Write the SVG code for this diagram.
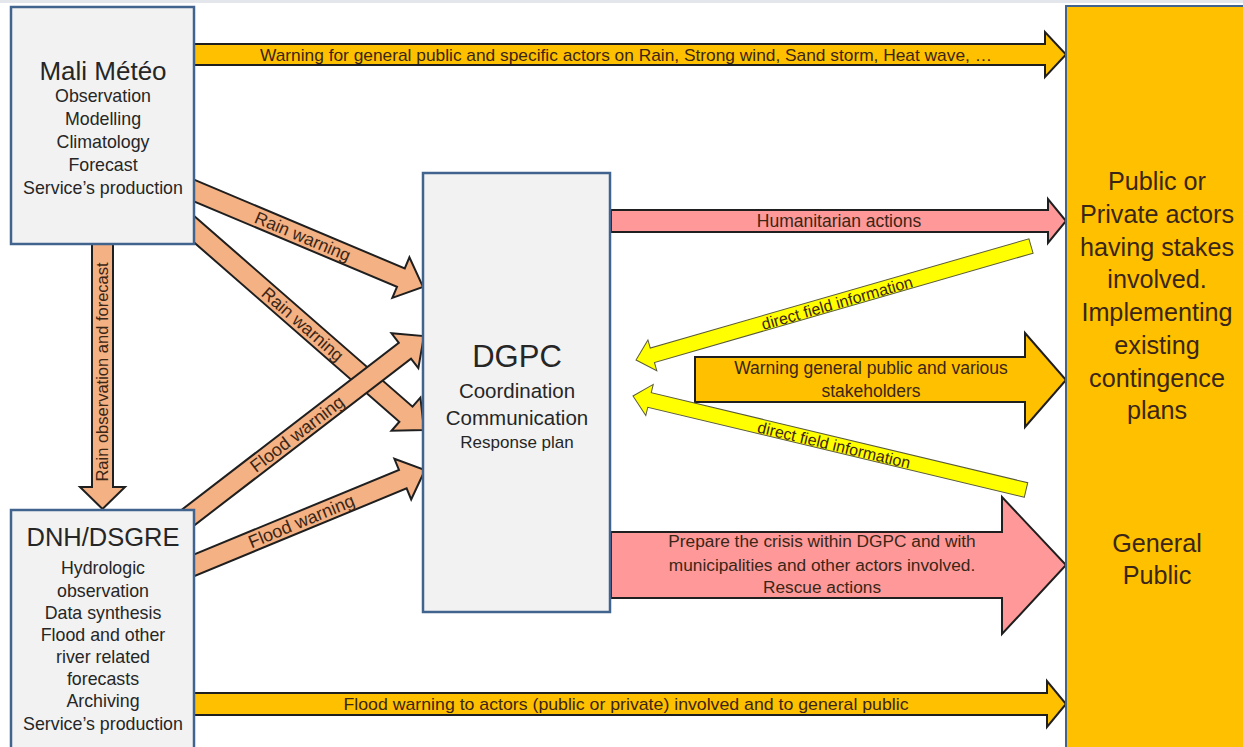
<svg xmlns="http://www.w3.org/2000/svg" width="1243" height="747" viewBox="0 0 1243 747">
<style>
.box{fill:#f2f2f2;stroke:#41648f;stroke-width:2.5}
.gold{fill:#ffc000;stroke:#1f1f1f;stroke-width:2}
.org{fill:#f4b183;stroke:#1f1f1f;stroke-width:2}
.pink{fill:#ff9999;stroke:#1f1f1f;stroke-width:2}
.yel{fill:#ffff00;stroke:#5a5a3a;stroke-width:1}
text{font-family:"Liberation Sans",Arial,sans-serif;text-anchor:middle}
.bt{fill:#262626}
.at{fill:#3a2616}
</style>
<rect x="0" y="0" width="1243" height="747" fill="#ffffff"/>
<rect x="0" y="0" width="1243" height="3" fill="#e3e6ea"/>

<g id="connectors">
  <g id="a-top">
    <path class="gold" d="M194,44 H1045 V32 L1066,54.5 L1045,77 V65 H194 Z"/>
    <text class="at" x="626" y="60.5" font-size="17" textLength="732" lengthAdjust="spacingAndGlyphs">Warning for general public and specific actors on Rain, Strong wind, Sand storm, Heat wave, …</text>
  </g>
  <g id="a-rainobs">
    <path class="org" d="M92,244 H113 V487 H125 L102.5,509 L80,487 H92 Z"/>
    <text class="at" transform="translate(102.5,372) rotate(-90)" dy=".35em" font-size="16.5">Rain observation and forecast</text>
  </g>
  <g id="a-rain1" transform="translate(183,185.9) rotate(22.83)">
    <path class="org" d="M0,-10 H236.4 V-22 L260.4,0 L236.4,22 V10 H0 Z"/>
    <text class="at" x="130" y="0" dy=".35em" font-size="17.5">Rain warning</text>
  </g>
  <g id="a-rain2" transform="translate(183,219.5) rotate(41.13)">
    <path class="org" d="M0,-10 H296 V-22 L320,0 L296,22 V10 H0 Z"/>
    <text class="at" x="159" y="0" dy=".35em" font-size="17.5">Rain warning</text>
  </g>
  <g id="a-flood1" transform="translate(186,519.1) rotate(-37.57)">
    <path class="org" d="M0,-10 H276.2 V-22 L300.2,0 L276.2,22 V10 H0 Z"/>
    <text class="at" x="140" y="0" dy=".35em" font-size="18">Flood warning</text>
  </g>
  <g id="a-flood2" transform="translate(183,569.9) rotate(-22.44)">
    <path class="org" d="M0,-10 H237.8 V-22 L261.8,0 L237.8,22 V10 H0 Z"/>
    <text class="at" x="128" y="0" dy=".35em" font-size="18">Flood warning</text>
  </g>
  <g id="a-human">
    <path class="pink" d="M611,210 H1048 V199 L1066,221 L1048,243 V232 H611 Z"/>
    <text class="at" x="839" y="227" font-size="17.5">Humanitarian actions</text>
  </g>
  <g id="a-field1">
    <path class="yel" transform="translate(1031,246) rotate(163.9)" d="M0,-7.5 H394.1 V-16 L411.1,0 L394.1,16 V7.5 H0 Z"/>
    <text class="at" transform="translate(837,303) rotate(-16.1)" dy=".35em" font-size="16">direct field information</text>
  </g>
  <g id="a-warnpub">
    <path class="gold" d="M695,357 H1025 V333 L1066,380 L1025,427 V402 H695 Z"/>
    <text class="at" x="871" y="374" font-size="17.5">Warning general public and various</text>
    <text class="at" x="871" y="397" font-size="17.5">stakeholders</text>
  </g>
  <g id="a-field2">
    <path class="yel" transform="translate(1026,490) rotate(-166.55)" d="M0,-7.5 H387.1 V-16 L404.1,0 L387.1,16 V7.5 H0 Z"/>
    <text class="at" transform="translate(834,445) rotate(13.45)" dy=".35em" font-size="16">direct field information</text>
  </g>
  <g id="a-prepare">
    <path class="pink" d="M611,532 H1002 V497 L1066,565 L1002,634 V598 H611 Z"/>
    <text class="at" x="822" y="547" font-size="17.3">Prepare the crisis within DGPC and with</text>
    <text class="at" x="822" y="571" font-size="17.3">municipalities and other actors involved.</text>
    <text class="at" x="822" y="593" font-size="17.3">Rescue actions</text>
  </g>
  <g id="a-bottom">
    <path class="gold" d="M194,693 H1047 V681 L1066,704 L1047,727 V715 H194 Z"/>
    <text class="at" x="626" y="709.5" font-size="17" textLength="565" lengthAdjust="spacingAndGlyphs">Flood warning to actors (public or private) involved and to general public</text>
  </g>
</g>

<g id="node-mali">
  <rect class="box" x="11" y="7" width="183" height="237"/>
  <text class="bt" x="103" y="80" font-size="26">Mali Météo</text>
  <text class="bt" x="103" y="102" font-size="17.8">Observation</text>
  <text class="bt" x="103" y="125" font-size="17.8">Modelling</text>
  <text class="bt" x="103" y="148" font-size="17.8">Climatology</text>
  <text class="bt" x="103" y="171" font-size="17.8">Forecast</text>
  <text class="bt" x="103" y="194" font-size="17.8">Service’s production</text>
</g>

<g id="node-dnh">
  <rect class="box" x="11" y="510" width="183" height="245"/>
  <text class="bt" x="103" y="546" font-size="25.5">DNH/DSGRE</text>
  <text class="bt" x="103" y="574" font-size="17.8">Hydrologic</text>
  <text class="bt" x="103" y="597" font-size="17.8">observation</text>
  <text class="bt" x="103" y="619" font-size="17.8">Data synthesis</text>
  <text class="bt" x="103" y="641" font-size="17.8">Flood and other</text>
  <text class="bt" x="103" y="663" font-size="17.8">river related</text>
  <text class="bt" x="103" y="685" font-size="17.8">forecasts</text>
  <text class="bt" x="103" y="707" font-size="17.8">Archiving</text>
  <text class="bt" x="103" y="730" font-size="17.8">Service’s production</text>
</g>

<g id="node-dgpc">
  <rect class="box" x="423" y="173" width="187" height="439"/>
  <text class="bt" x="517" y="367" font-size="31">DGPC</text>
  <text class="bt" x="517" y="398" font-size="20.5">Coordination</text>
  <text class="bt" x="517" y="425" font-size="20.5">Communication</text>
  <text class="bt" x="517" y="448" font-size="17">Response plan</text>
</g>

<g id="node-actors">
  <rect x="1066" y="6" width="190" height="750" fill="#ffc000" stroke="#41648f" stroke-width="2"/>
  <text class="at" x="1157" y="190" font-size="25.2">Public or</text>
  <text class="at" x="1157" y="223" font-size="25.2">Private actors</text>
  <text class="at" x="1157" y="256" font-size="25.2">having stakes</text>
  <text class="at" x="1157" y="288" font-size="25.2">involved.</text>
  <text class="at" x="1157" y="321" font-size="25.2">Implementing</text>
  <text class="at" x="1157" y="354" font-size="25.2">existing</text>
  <text class="at" x="1157" y="387" font-size="25.2">contingence</text>
  <text class="at" x="1157" y="419" font-size="25.2">plans</text>
  <text class="at" x="1157" y="552" font-size="25.2">General</text>
  <text class="at" x="1157" y="584" font-size="25.2">Public</text>
</g>
</svg>
